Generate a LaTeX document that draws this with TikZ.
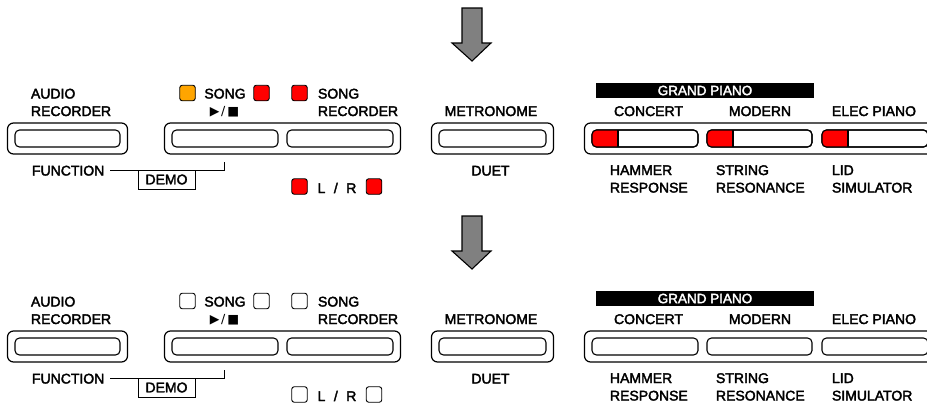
\documentclass[tikz,border=0pt]{standalone}
\usepackage{fontspec}
\setmainfont{Liberation Sans}[FakeBold=2.5]
\newfontfamily\symfont{DejaVu Sans}
\usetikzlibrary{positioning,fit}
\definecolor{ledred}{HTML}{FF0000}
\definecolor{ledorange}{HTML}{FFA500}
\definecolor{arrowgray}{HTML}{808080}

\begin{document}
\begin{tikzpicture}[x=1pt,y=-1pt]
  \tikzset{
    every node/.style={font=\fontsize{14}{17.5}\selectfont, inner sep=0pt, outer sep=0pt},
    caption/.style={align=left, anchor=base west},
    outerframe/.style={draw, line width=1.2pt, rounded corners=6pt, inner xsep=7.5pt, inner ysep=7pt},
    pianokey/.style={draw, line width=1.1pt, rounded corners=4.5pt, minimum height=17pt},
    ledbox/.style={draw, line width=0.9pt, rounded corners=2.5pt, minimum size=15.5pt},
    bigarrow/.style={draw, fill=arrowgray, line width=1.1pt, line join=miter}
  }
  \useasboundingbox (0,0) rectangle (927,407);
  \clip (0,0) rectangle (927,407);

  % down arrows
  \foreach \ay in {8,216}
    \draw[bigarrow] (462,\ay) -- (482,\ay) -- (482,\ay+35) -- (491,\ay+35)
      -- (472,\ay+53) -- (452,\ay+35) -- (462,\ay+35) -- cycle;

  % the two panels: lit and unlit
  \foreach \dy/\play/\led/\lit in {0/ledorange/ledred/1, 208/white/white/0}{
  \begin{scope}[yshift=-\dy pt]
    % audio recorder
    \node[caption] (audiolbl\dy) at (31,116) {AUDIO\\RECORDER};
    \node[pianokey, minimum width=105pt] (audio\dy) at (67.5,138.5) {};
    \node[outerframe, fit=(audio\dy)] (audioframe\dy) {};
    \node[anchor=base west] (function\dy) at (32,175.5) {FUNCTION};

    % song keys
    \node[pianokey, minimum width=106pt] (play\dy) at (225,138.5) {};
    \node[pianokey, minimum width=106pt, right=9pt of play\dy] (rec\dy) {};
    \node[outerframe, fit=(play\dy)(rec\dy)] (songframe\dy) {};

    \node[ledbox, fill=\play] (playled\dy) at (187.5,93) {};
    \node[anchor=base] (songlbl\dy) at (225,98.5) {SONG};
    \node[ledbox, fill=\led] (stopled\dy) at (261.5,93) {};
    \node[anchor=base] (playsym\dy) at (224.5,115.5) {\symfont\fontsize{12.5}{14}\selectfont ▶\hspace{1.5pt}/\hspace{2pt}■};
    \node[ledbox, fill=\led] (recled\dy) at (299.5,93) {};
    \node[caption] (reclbl\dy) at (318,116) {SONG\\RECORDER};

    % function / demo
    \coordinate (demoend\dy) at (224,162);
    \draw[line width=0.9pt] ([xshift=6pt]function\dy.east) -| (demoend\dy);
    \node[draw, line width=0.9pt, fill=white, minimum width=57pt, minimum height=19pt,
      anchor=north west] (demo\dy) at (138,170) {DEMO};

    % L / R
    \node[ledbox, fill=\led] (lled\dy) at (299.5,186.5) {};
    \node[anchor=base] (lrlbl\dy) at (337,193) {L\hspace{8.5pt}/\hspace{8.5pt}R};
    \node[ledbox, fill=\led] (rled\dy) at (374,186.5) {};

    % metronome
    \node[anchor=base] (metrolbl\dy) at (491,116) {METRONOME};
    \node[pianokey, minimum width=107pt] (metro\dy) at (492.5,138.5) {};
    \node[outerframe, fit=(metro\dy)] (metroframe\dy) {};
    \node[anchor=base] (duet\dy) at (490.5,175.5) {DUET};

    % grand piano
    \node[fill=black, text=white, font=\fontsize{13.5}{16}\selectfont,
      minimum width=218pt, minimum height=15pt] (grand\dy) at (705,90.5) {GRAND PIANO};
    \node[pianokey, minimum width=106pt] (concert\dy) at (645,138.5) {};
    \node[pianokey, minimum width=105pt, right=9pt of concert\dy] (modern\dy) {};
    \node[pianokey, minimum width=106pt, right=10pt of modern\dy] (elec\dy) {};
    \node[outerframe, fit=(concert\dy)(elec\dy)] (grandframe\dy) {};

    \ifnum\lit=1
      \foreach \k in {concert,modern,elec}{
        \begin{scope}
          \clip[rounded corners=4.5pt] (\k\dy.south west) rectangle (\k\dy.north east);
          \fill[ledred] (\k\dy.north west) rectangle ([xshift=26pt]\k\dy.south west);
        \end{scope}
        \draw[line width=1.1pt] ([xshift=26pt]\k\dy.north west) -- ([xshift=26pt]\k\dy.south west);
        \draw[line width=1.1pt, rounded corners=4.5pt] (\k\dy.south west) rectangle (\k\dy.north east);
      }
    \fi

    \node[anchor=base] (concertlbl\dy) at (648.5,116) {CONCERT};
    \node[anchor=base] (modernlbl\dy) at (760,116) {MODERN};
    \node[anchor=base west] (eleclbl\dy) at (832,116) {ELEC PIANO};
    \node[caption] (hammer\dy) at (610,192.5) {HAMMER\\RESPONSE};
    \node[caption] (string\dy) at (716,192.5) {STRING\\RESONANCE};
    \node[caption] (lid\dy) at (832,192.5) {LID\\SIMULATOR};
  \end{scope}
  }
\end{tikzpicture}
\end{document}
